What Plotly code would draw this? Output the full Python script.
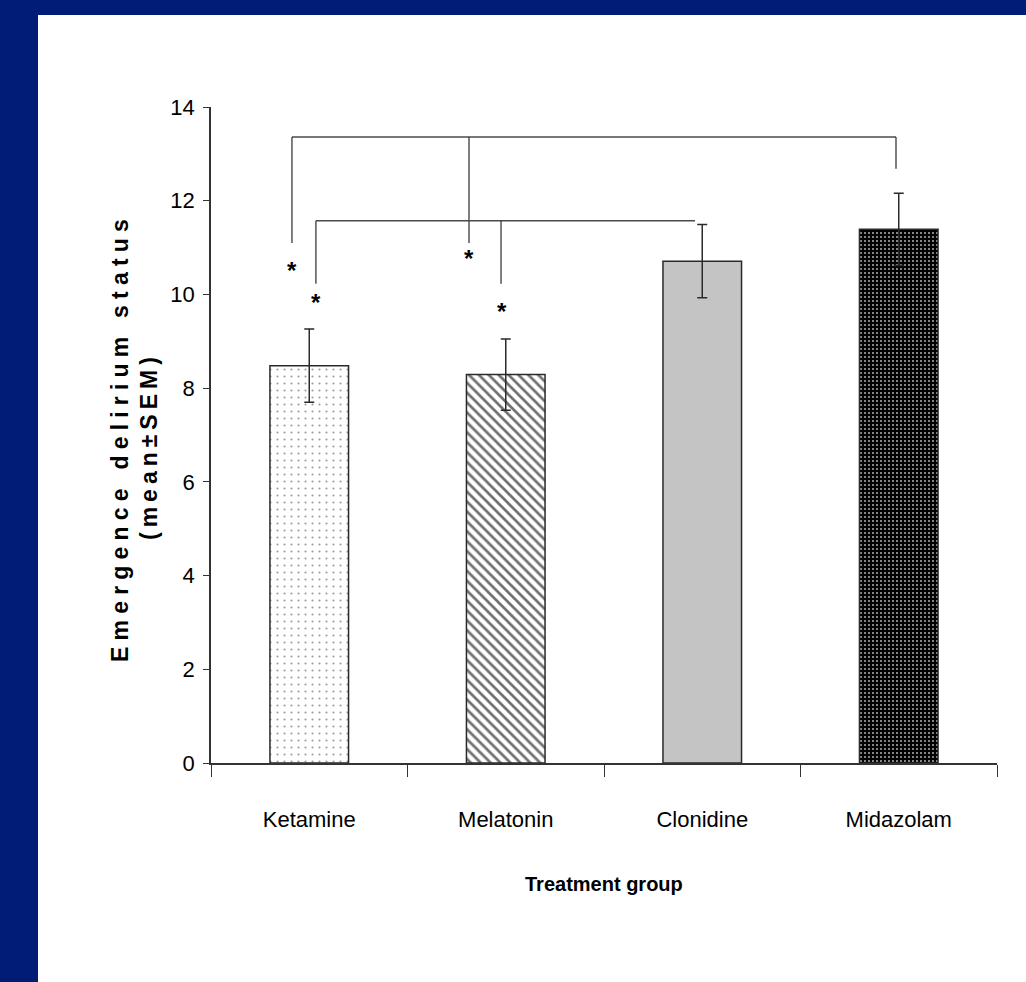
import plotly.graph_objects as go

# ---------------- data ----------------
categories = ["Ketamine", "Melatonin", "Clonidine", "Midazolam"]
means = [8.48, 8.29, 10.71, 11.39]
sem = [0.78, 0.76, 0.78, 0.77]
y_tick_vals = [0, 2, 4, 6, 8, 10, 12, 14]

# significance brackets (category-index x positions, value-scale y)
bracket_level = [13.36, 11.57]
bracket_x = [[-0.088, 0.813, 2.986], [0.034, 0.976, 1.963]]
bracket_drop = [[11.10, 11.10, 12.68], [10.23, 10.23, None]]
star_x = [-0.088, 0.034, 0.813, 0.981]
star_y = [10.56, 9.88, 10.80, 9.67]

# ---------------- styles ----------------
bar_bg = ["#FFFFFF", "#FFFFFF", "#C4C4C4", "#000000"]
bar_fg = ["#9A9A9A", "#707070", "#C4C4C4", "#B0B0B0"]
bar_shape = [".", "\\", "", "."]
bar_psize = [7, 7, 6, 4]
bar_solid = [0.07, 0.38, 0.2, 0.2]

NAVY = "#001C77"
FONT = "Liberation Sans, Arial, sans-serif"
W, H = 1026, 982
L, R, T, B = 211, 29, 107, 219
PW, PH = W - L - R, H - T - B


def px_x(px):
    return (px - L) / PW


def px_y(py):
    return 1 - (py - T) / PH


fig = go.Figure()
for i, cat in enumerate(categories):
    fig.add_trace(go.Bar(
        x=[cat], y=[means[i]], width=0.4,
        marker=dict(
            color=bar_bg[i],
            line=dict(color="#2A2A2A", width=1.5),
            pattern=dict(shape=bar_shape[i], fgcolor=bar_fg[i], bgcolor=bar_bg[i],
                         size=bar_psize[i], solidity=bar_solid[i], fillmode="replace"),
        ),
        error_y=dict(type="data", array=[sem[i]], visible=True, color="#2A2A2A",
                     thickness=1.5, width=5),
        showlegend=False, hoverinfo="skip",
    ))

shapes = [
    # white slide panel over the navy background
    dict(type="rect", xref="paper", yref="paper", x0=px_x(38), x1=px_x(W + 5),
         y0=px_y(H + 5), y1=px_y(15), fillcolor="white", line=dict(width=0),
         layer="below"),
]
for lvl, xs, drops in zip(bracket_level, bracket_x, bracket_drop):
    shapes.append(dict(type="line", xref="x", yref="y", x0=xs[0], x1=xs[-1],
                       y0=lvl, y1=lvl, line=dict(color="#4A4A4A", width=1.5)))
    for xv, dv in zip(xs, drops):
        if dv is not None:
            shapes.append(dict(type="line", xref="x", yref="y", x0=xv, x1=xv,
                               y0=lvl, y1=dv, line=dict(color="#3A3A3A", width=1.3)))

annotations = []
for sx, sy in zip(star_x, star_y):
    annotations.append(dict(x=sx, y=sy, xref="x", yref="y", text="*",
                            showarrow=False, xanchor="center", yanchor="middle",
                            yshift=-2,
                            font=dict(family=FONT, size=24, color="black", weight="bold")))

annotations.append(dict(
    x=px_x(604), y=px_y(884), xref="paper", yref="paper",
    xanchor="center", yanchor="middle",
    text="Treatment group", showarrow=False,
    font=dict(family=FONT, size=20, color="black", weight="bold")))

annotations.append(dict(
    x=px_x(120), y=px_y(438), xref="paper", yref="paper", textangle=-90,
    xanchor="center", yanchor="middle",
    text='<span style="letter-spacing:6.2px">Emergence delirium status</span>',
    showarrow=False,
    font=dict(family=FONT, size=23, color="black", weight="bold")))
annotations.append(dict(
    x=px_x(149), y=px_y(446), xref="paper", yref="paper", textangle=-90,
    xanchor="center", yanchor="middle",
    text='<span style="letter-spacing:5px">(mean\u00b1SEM)</span>',
    showarrow=False,
    font=dict(family=FONT, size=23, color="black", weight="bold")))

fig.update_layout(
    width=W, height=H,
    margin=dict(l=L, r=R, t=T, b=B, autoexpand=False),
    paper_bgcolor=NAVY, plot_bgcolor="white",
    shapes=shapes, annotations=annotations,
    barmode="overlay",
    xaxis=dict(type="category", categoryorder="array", categoryarray=categories,
               range=[-0.5, 3.5], showline=True,
               linecolor="#333", linewidth=1.5, ticks="outside",
               tickson="boundaries", ticklen=12, tickcolor="#333", tickwidth=1.2,
               tickfont=dict(family=FONT, size=22, color="black"),
               ticklabelstandoff=36, showgrid=False, zeroline=False,
               fixedrange=True),
    yaxis=dict(range=[0, 14], tickvals=y_tick_vals, showline=True,
               linecolor="#333", linewidth=1.5, ticks="outside", ticklen=6,
               tickcolor="#333", tickwidth=1.2,
               tickfont=dict(family=FONT, size=22, color="black"),
               ticklabelstandoff=4, showgrid=False, zeroline=False,
               fixedrange=True),
)

fig.write_html("out.html", config={"displayModeBar": False},
               post_script="document.body.style.margin='0';")
